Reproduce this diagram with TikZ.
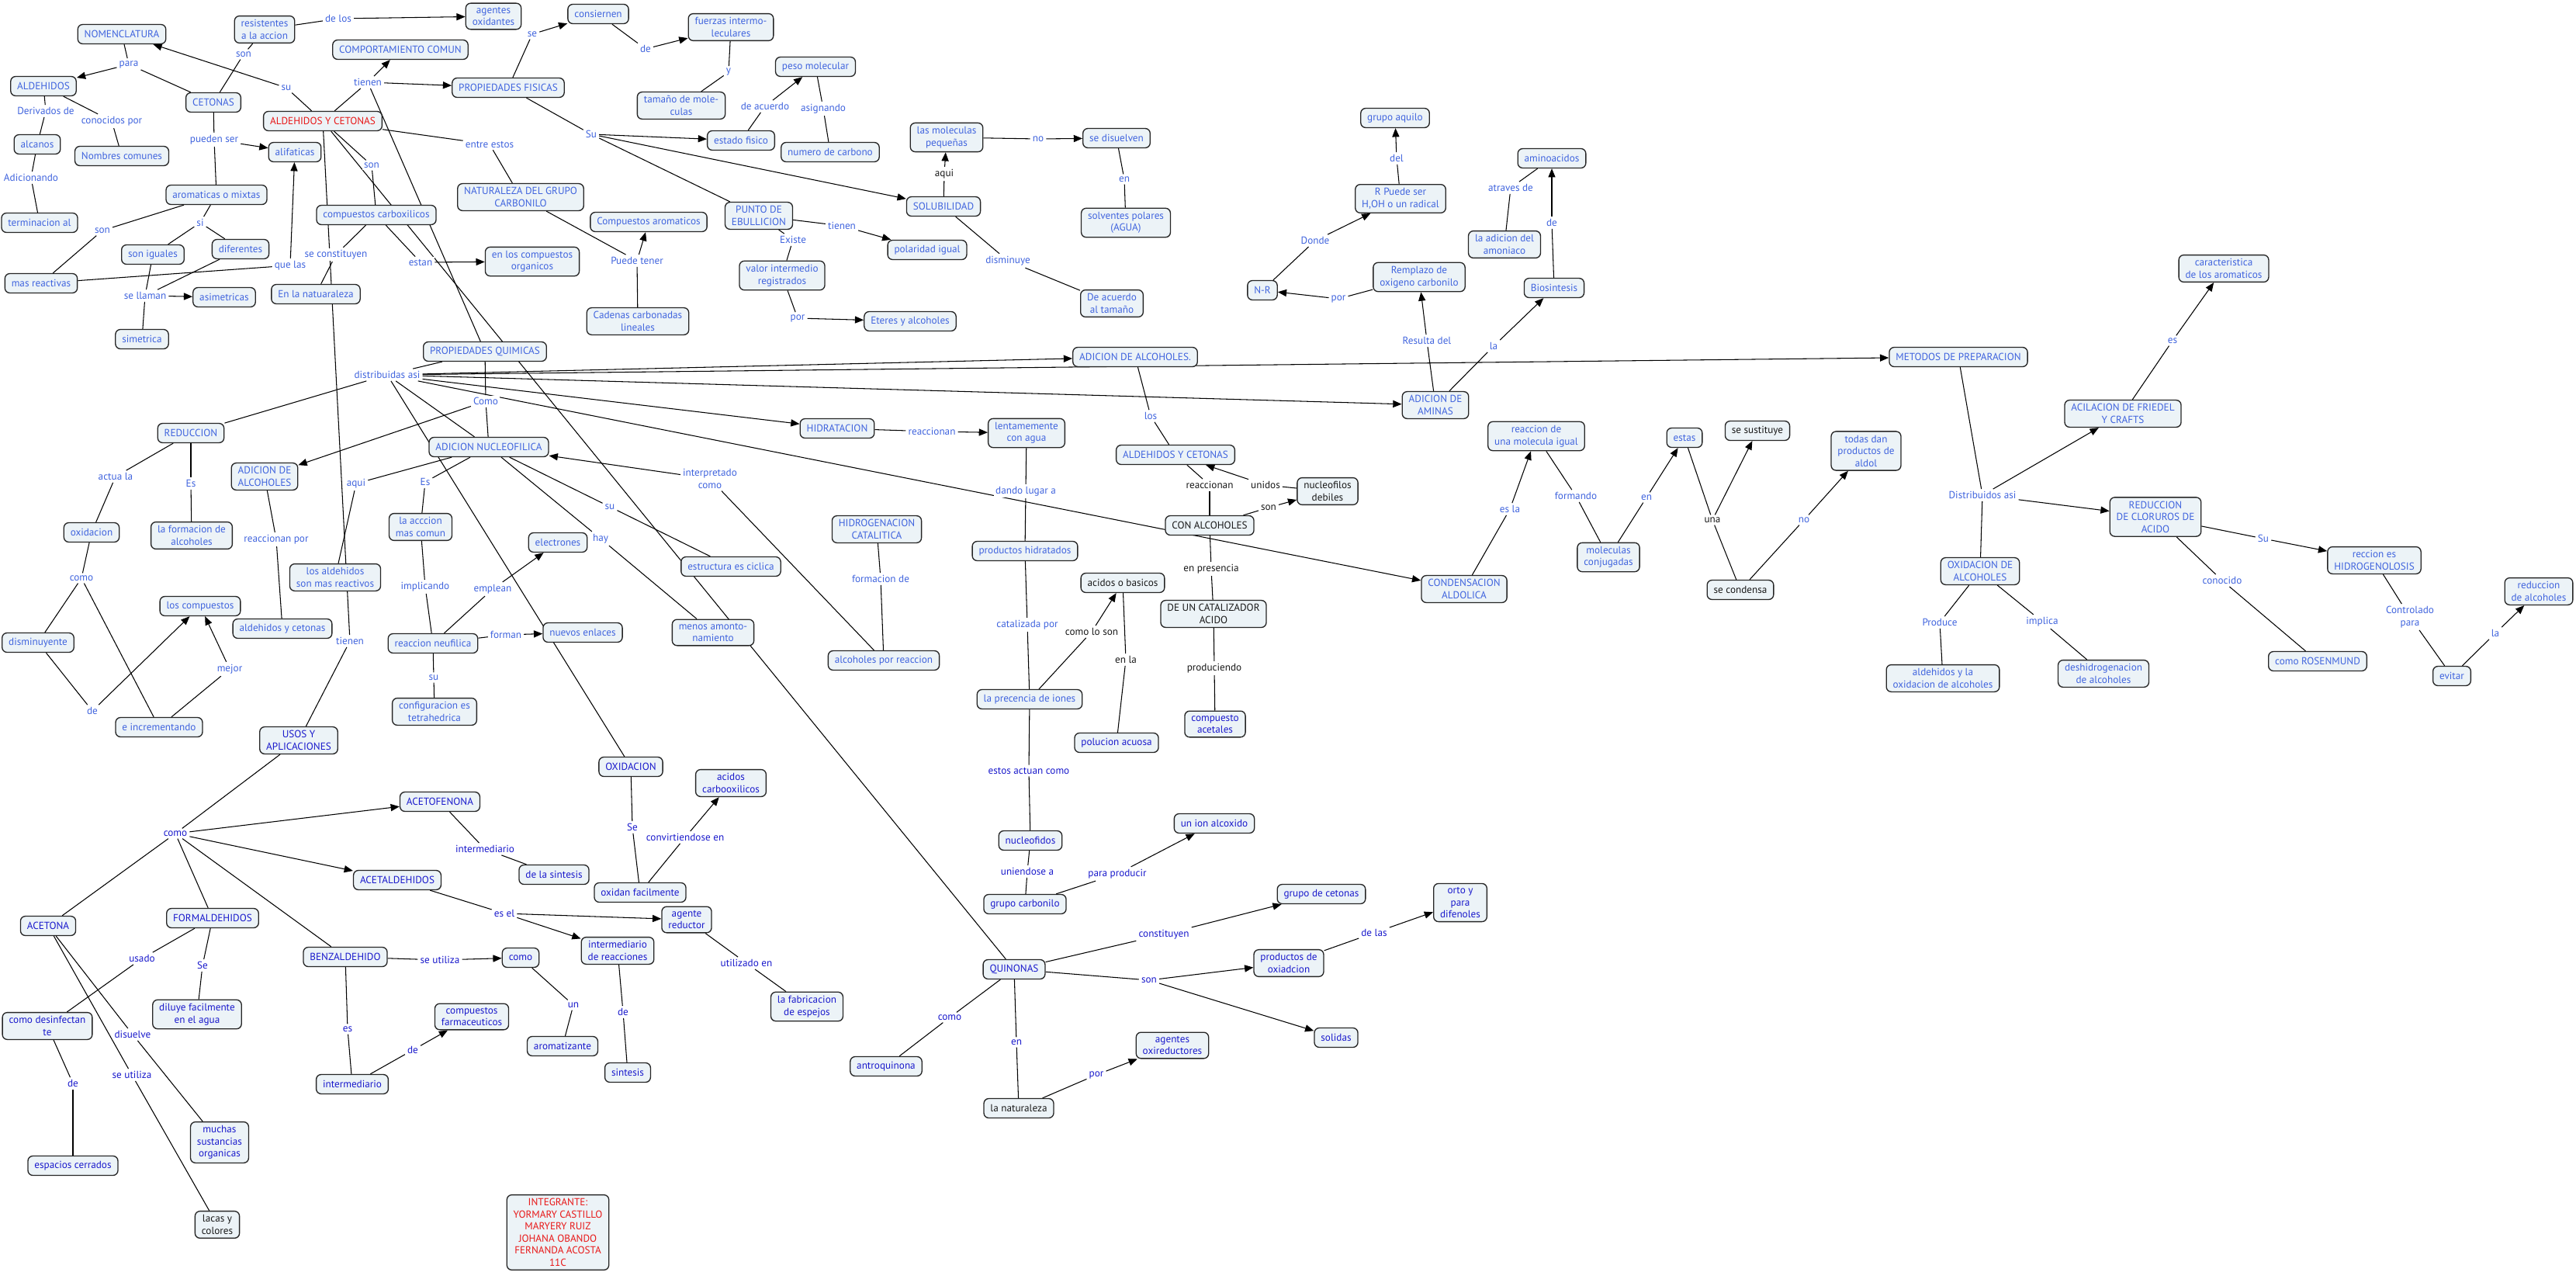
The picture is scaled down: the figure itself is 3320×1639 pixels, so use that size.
\documentclass[tikz,border=0pt]{standalone}
\usepackage{fontspec}
\setmainfont{PT Sans}
\usepackage{xcolor}
\usetikzlibrary{arrows.meta, backgrounds}

\definecolor{cmblue}{RGB}{64,100,222}
\definecolor{cmdark}{RGB}{26,26,204}
\definecolor{cmfill}{RGB}{236,243,247}
\definecolor{cmred}{RGB}{232,24,24}
\definecolor{cmblack}{RGB}{25,25,25}
\newcommand{\mapfont}{\fontsize{3.75}{4.4}\selectfont}

\begin{document}
\begin{tikzpicture}[
    x=0.01cm, y=-0.01cm,
    concept/.style={draw=black!85, line width=0.38pt, rounded corners=1.8pt, fill=cmfill, text=cmblue, align=center, font=\mapfont, inner xsep=2.4pt, inner ysep=1.4pt, minimum height=7.1pt},
    phrase/.style={fill=white, text=cmblue, align=center, font=\mapfont, inner sep=0.7pt},
    dk/.style={text=cmdark},
    bk/.style={text=cmblack},
    rd/.style={text=cmred},
    conn/.style={line width=0.3pt},
    arrow/.style={line width=0.3pt, -{Triangle[length=3.2pt, width=2.6pt]}},
]
\useasboundingbox (0,0) rectangle (3320,1639);

% concepts
\node[concept] (nomen) at (157,44) {NOMENCLATURA};
\node[concept] (resist) at (341,38) {resistentes\\a la accion};
\node[concept] (agox) at (636,21) {agentes\\oxidantes};
\node[concept] (consi) at (771,18) {consiernen};
\node[concept] (fuerzas) at (942,35) {fuerzas intermo-\\leculares};
\node[concept] (compcom) at (516,64) {COMPORTAMIENTO COMUN};
\node[concept] (aldeh) at (56,111) {ALDEHIDOS};
\node[concept] (cetonas) at (275,132) {CETONAS};
\node[concept] (propfis) at (655,113) {PROPIEDADES FISICAS};
\node[concept] (tamano) at (878,136) {tamaño de mole-\\culas};
\node[concept] (pesomol) at (1051,86) {peso molecular};
\node[concept, rd] (ayc) at (416,156) {ALDEHIDOS Y CETONAS};
\node[concept] (alcanos) at (48,186) {alcanos};
\node[concept] (nomcom) at (157,201) {Nombres comunes};
\node[concept] (alif) at (380,196) {alifaticas};
\node[concept] (estfis) at (955,181) {estado fisico};
\node[concept] (numcarb) at (1070,196) {numero de carbono};
\node[concept] (molpeq) at (1220,177) {las moleculas\\pequeñas};
\node[concept] (sedis) at (1439,178) {se disuelven};
\node[concept] (grupoaq) at (1798,152) {grupo aquilo};
\node[concept] (aminoac) at (2000,204) {aminoacidos};
\node[concept] (aromix) at (279,251) {aromaticas o mixtas};
\node[concept] (natur) at (671,254) {NATURALEZA DEL GRUPO\\CARBONILO};
\node[concept] (rpuede) at (1805,256) {R Puede ser\\H,OH o un radical};
\node[concept] (termal) at (51,287) {terminacion al};
\node[concept] (compcarb) at (485,277) {compuestos  carboxilicos};
\node[concept] (comparom) at (836,286) {Compuestos aromaticos};
\node[concept] (punteb) at (978,278) {PUNTO DE\\EBULLICION};
\node[concept] (solub) at (1216,266) {SOLUBILIDAD};
\node[concept] (solvpol) at (1451,287) {solventes polares\\(AGUA)};
\node[concept] (adicamon) at (1939,315) {la adicion del\\amoniaco};
\node[concept] (soniguales) at (197,328) {son iguales};
\node[concept] (difer) at (310,321) {diferentes};
\node[concept] (enloscomp) at (686,337) {en los compuestos\\organicos};
\node[concept] (polig) at (1195,322) {polaridad igual};
\node[concept] (remplazo) at (1829,357) {Remplazo de\\oxigeno carbonilo};
\node[concept] (valint) at (1008,355) {valor intermedio\\registrados};
\node[concept] (masreact) at (53,365) {mas reactivas};
\node[concept] (asim) at (289,383) {asimetricas};
\node[concept] (enlanat) at (407,379) {En la natuaraleza};
\node[concept] (cadenas) at (822,414) {Cadenas carbonadas\\lineales};
\node[concept] (eteres) at (1173,414) {Eteres y alcoholes};
\node[concept] (deacuerdo) at (1433,391) {De acuerdo\\al tamaño};
\node[concept] (nr) at (1627,374) {N-R};
\node[concept] (biosint) at (2003,371) {Biosintesis};
\node[concept] (caract) at (2866,346) {caracteristica\\de los aromaticos};
\node[concept] (simet) at (183,437) {simetrica};
\node[concept] (propquim) at (625,453) {PROPIEDADES QUIMICAS};
\node[concept] (adicalcr) at (1463,460) {ADICION DE ALCOHOLES.};
\node[concept] (metodos) at (2524,460) {METODOS DE PREPARACION};
\node[concept] (adicam) at (1850,522) {ADICION DE\\AMINAS};
\node[concept] (acilac) at (2736,533) {ACILACION DE FRIEDEL\\Y CRAFTS};
\node[concept] (reduc) at (246,558) {REDUCCION};
\node[concept] (hidrat) at (1079,552) {HIDRATACION};
\node[concept] (lentam) at (1323,558) {lentamemente\\con agua};
\node[concept] (reacmol) at (1980,562) {reaccion de\\una molecula igual};
\node[concept] (estas) at (2171,564) {estas};
\node[concept, bk] (sesust) at (2265,555) {se sustituye};
\node[concept] (todas) at (2405,581) {todas dan\\productos de\\aldol};
\node[concept] (adnuc) at (630,576) {ADICION NUCLEOFILICA};
\node[concept] (ayc2) at (1515,586) {ALDEHIDOS Y CETONAS};
\node[concept, bk] (nucdeb) at (1711,633) {nucleofilos\\debiles};
\node[concept] (adicalcl) at (341,614) {ADICION DE\\ALCOHOLES};
\node[concept] (redclor) at (2778,666) {REDUCCION\\DE CLORUROS DE\\ACIDO};
\node[concept] (hidrog) at (1130,682) {HIDROGENACION\\CATALITICA};
\node[concept, bk] (conalc) at (1559,677) {CON ALCOHOLES};
\node[concept] (oxidacion) at (118,686) {oxidacion};
\node[concept] (formalc) at (247,690) {la formacion de\\alcoholes};
\node[concept] (accion) at (542,679) {la acccion\\mas comun};
\node[concept] (electr) at (719,699) {electrones};
\node[concept] (prodhid) at (1321,710) {productos hidratados};
\node[concept] (reccion) at (3060,722) {reccion es\\HIDROGENOLOSIS};
\node[concept] (estruc) at (942,730) {estructura es ciclica};
\node[concept] (molconj) at (2073,718) {moleculas\\conjugadas};
\node[concept] (oxalc) at (2552,736) {OXIDACION DE\\ALCOHOLES};
\node[concept] (losald) at (432,744) {los aldehidos\\son mas reactivos};
\node[concept, bk] (acbas) at (1447,751) {acidos o basicos};
\node[concept] (condens) at (1887,759) {CONDENSACION\\ALDOLICA};
\node[concept, bk] (second) at (2243,760) {se condensa};
\node[concept] (redalc) at (3272,762) {reduccion\\de alcoholes};
\node[concept] (loscomp) at (258,781) {los compuestos};
\node[concept, bk] (catal) at (1564,791) {DE UN CATALIZADOR\\ACIDO};
\node[concept] (aycmin) at (364,810) {aldehidos y cetonas};
\node[concept] (menos) at (919,815) {menos amonto-\\namiento};
\node[concept] (nuevos) at (751,815) {nuevos enlaces};
\node[concept] (reacneu) at (558,829) {reaccion neufilica};
\node[concept] (dismin) at (49,828) {disminuyente};
\node[concept] (alcreac) at (1139,851) {alcoholes por reaccion};
\node[concept] (rosen) at (2987,852) {como ROSENMUND};
\node[concept] (aldyox) at (2504,874) {aldehidos y la\\oxidacion de alcoholes};
\node[concept] (deshid) at (2711,868) {deshidrogenacion\\de alcoholes};
\node[concept] (evitar) at (3160,871) {evitar};
\node[concept] (preciones) at (1327,901) {la precencia de iones};
\node[concept] (config) at (560,917) {configuracion es\\tetrahedrica};
\node[concept, dk] (acetales) at (1566,933) {compuesto\\acetales};
\node[concept] (increm) at (205,937) {e incrementando};
\node[concept, dk] (usos) at (385,954) {USOS Y\\APLICACIONES};
\node[concept, dk] (polucion) at (1439,957) {polucion acuosa};
\node[concept, dk] (oxid) at (813,988) {OXIDACION};
\node[concept, dk] (acidcarb) at (942,1009) {acidos\\carbooxilicos};
\node[concept, dk] (acetof) at (567,1033) {ACETOFENONA};
\node[concept, dk] (ionalc) at (1565,1061) {un ion alcoxido};
\node[concept, dk] (nucleof) at (1328,1083) {nucleofidos};
\node[concept, dk] (delasint) at (714,1127) {de la sintesis};
\node[concept, dk] (acetald) at (512,1134) {ACETALDEHIDOS};
\node[concept, dk] (oxidfac) at (825,1150) {oxidan facilmente};
\node[concept, dk] (grupocet) at (1703,1152) {grupo de cetonas};
\node[concept, dk] (orto) at (1882,1163) {orto y\\para\\difenoles};
\node[concept, dk] (grupocarb) at (1321,1165) {grupo carbonilo};
\node[concept, dk] (agred) at (885,1185) {agente\\reductor};
\node[concept, dk] (formald) at (274,1183) {FORMALDEHIDOS};
\node[concept, dk] (acetona) at (62,1193) {ACETONA};
\node[concept, dk] (intreac) at (796,1225) {intermediario\\de reacciones};
\node[concept, dk] (benzal) at (445,1233) {BENZALDEHIDO};
\node[concept, dk] (comonode) at (671,1234) {como};
\node[concept, dk] (quinonas) at (1307,1249) {QUINONAS};
\node[concept, dk] (prodox) at (1661,1241) {productos de\\oxiadcion};
\node[concept, dk] (desinf) at (61,1322) {como desinfectan\\te};
\node[concept, dk] (diluye) at (254,1307) {diluye facilmente\\en el agua};
\node[concept, dk] (compfarm) at (608,1310) {compuestos\\farmaceuticos};
\node[concept, dk] (fabric) at (1040,1297) {la fabricacion\\de espejos};
\node[concept, dk] (solidas) at (1722,1337) {solidas};
\node[concept, dk] (aromat) at (725,1348) {aromatizante};
\node[concept, dk] (agoxir) at (1511,1347) {agentes\\oxireductores};
\node[concept, dk] (sintesis) at (809,1382) {sintesis};
\node[concept, dk] (intermed) at (454,1397) {intermediario};
\node[concept, dk] (antroq) at (1142,1374) {antroquinona};
\node[concept, bk] (natlz) at (1313,1428) {la naturaleza};
\node[concept, dk] (muchas) at (283,1472) {muchas\\sustancias\\organicas};
\node[concept, dk] (espacios) at (94,1502) {espacios cerrados};
\node[concept, bk] (lacas) at (280,1578) {lacas y\\colores};
\node[concept, rd] (integ) at (719,1588) {INTEGRANTE:\\YORMARY CASTILLO\\MARYERY RUIZ\\JOHANA OBANDO\\FERNANDA ACOSTA\\11C};

% linking phrases
\node[phrase] (pdelos) at (436,24) {de los};
\node[phrase] (pson1) at (314,70) {son};
\node[phrase] (ppara) at (166,83) {para};
\node[phrase] (psu1) at (369,113) {su};
\node[phrase] (ptienen1) at (474,106) {tienen};
\node[phrase] (pse1) at (686,44) {se};
\node[phrase] (pde1) at (832,63) {de};
\node[phrase] (pderiv) at (59,143) {Derivados de};
\node[phrase] (pconoc) at (144,156) {conocidos por};
\node[phrase] (ppueden) at (276,180) {pueden ser};
\node[phrase] (pentre) at (631,186) {entre estos};
\node[phrase] (pSu1) at (762,173) {Su};
\node[phrase] (pson2) at (479,213) {son};
\node[phrase] (padic) at (40,229) {Adicionando};
\node[phrase] (pson3) at (132,297) {son};
\node[phrase] (psi) at (258,287) {si};
\node[phrase] (pconst) at (433,328) {se constituyen};
\node[phrase] (pquelas) at (374,342) {que las};
\node[phrase] (pestan) at (542,338) {estan};
\node[phrase] (ppuede) at (821,336) {Puede tener};
\node[phrase] (pllaman) at (187,381) {se llaman};
\node[phrase] (py) at (939,93) {y};
\node[phrase] (pdeacu) at (986,137) {de acuerdo};
\node[phrase] (pasign) at (1061,140) {asignando};
\node[phrase] (pno1) at (1338,179) {no};
\node[phrase, bk] (paqui1) at (1217,224) {aqui};
\node[phrase] (pen1) at (1449,231) {en};
\node[phrase] (ptienen2) at (1085,291) {tienen};
\node[phrase] (pexiste) at (1022,309) {Existe};
\node[phrase] (pdismin) at (1299,336) {disminuye};
\node[phrase] (ppor1) at (1028,410) {por};
\node[phrase] (pdonde) at (1695,310) {Donde};
\node[phrase] (ppor2) at (1725,385) {por};
\node[phrase] (pdel) at (1800,204) {del};
\node[phrase] (patraves) at (1947,242) {atraves de};
\node[phrase] (pde2) at (2000,287) {de};
\node[phrase] (presulta) at (1839,439) {Resulta del};
\node[phrase] (pla1) at (1925,446) {la};
\node[phrase] (pes1) at (2800,439) {es};
\node[phrase] (pdistrib) at (499,483) {distribuidas asi};
\node[phrase] (pcomo1) at (626,517) {Como};
\node[phrase] (pactua) at (149,614) {actua la};
\node[phrase] (pEs1) at (246,623) {Es};
\node[phrase] (paqui2) at (459,623) {aqui};
\node[phrase] (pEs2) at (548,621) {Es};
\node[phrase] (psu2) at (786,653) {su};
\node[phrase] (preacpor) at (356,695) {reaccionan por};
\node[phrase] (phay) at (774,694) {hay};
\node[phrase] (pcomo2) at (105,745) {como};
\node[phrase] (pimplic) at (548,756) {implicando};
\node[phrase] (pemplean) at (635,759) {emplean};
\node[phrase] (ptienen3) at (451,826) {tienen};
\node[phrase] (pforman) at (652,818) {forman};
\node[phrase] (pmejor) at (296,862) {mejor};
\node[phrase] (psu3) at (559,873) {su};
\node[phrase] (pde3) at (119,916) {de};
\node[phrase] (preac1) at (1201,556) {reaccionan};
\node[phrase] (plos) at (1483,536) {los};
\node[phrase] (pinterp) at (915,617) {interpretado\\como};
\node[phrase, bk] (preac2) at (1559,625) {reaccionan};
\node[phrase, bk] (punidos) at (1631,625) {unidos};
\node[phrase] (pdando) at (1322,633) {dando lugar a};
\node[phrase, bk] (pson4) at (1635,654) {son};
\node[phrase, bk] (ppresen) at (1561,733) {en presencia};
\node[phrase] (pformac) at (1135,746) {formacion de};
\node[phrase] (pcataliz) at (1324,805) {catalizada por};
\node[phrase, bk] (pcomolo) at (1407,814) {como lo son};
\node[phrase, bk] (penla) at (1451,850) {en la};
\node[phrase, bk] (pproduc) at (1565,861) {produciendo};
\node[phrase, dk] (pestos) at (1326,993) {estos actuan como};
\node[phrase, dk] (punien) at (1324,1123) {uniendose a};
\node[phrase, dk] (pparaprod) at (1440,1126) {para producir};
\node[phrase, dk] (pconstit) at (1500,1204) {constituyen};
\node[phrase, dk] (pson5) at (1481,1263) {son};
\node[phrase, dk] (pcomo3) at (1224,1311) {como};
\node[phrase, dk] (pen2) at (1310,1343) {en};
\node[phrase, dk] (ppor3) at (1413,1385) {por};
\node[phrase, dk] (pdelas) at (1771,1202) {de las};
\node[phrase, dk] (putiliz) at (962,1241) {utilizado en};
\node[phrase, dk] (pcomo4) at (226,1074) {como};
\node[phrase, dk] (pSe1) at (815,1066) {Se};
\node[phrase, dk] (pconvirt) at (883,1079) {convirtiendose en};
\node[phrase, dk] (pintermed) at (625,1094) {intermediario};
\node[phrase, dk] (pesel) at (650,1177) {es el};
\node[phrase, dk] (psutil1) at (567,1237) {se utiliza};
\node[phrase, dk] (pusado) at (183,1235) {usado};
\node[phrase, dk] (pSe2) at (261,1244) {Se};
\node[phrase, dk] (pun) at (739,1295) {un};
\node[phrase, dk] (pde4) at (803,1304) {de};
\node[phrase, dk] (pes2) at (448,1326) {es};
\node[phrase, dk] (pdisuelve) at (171,1333) {disuelve};
\node[phrase, dk] (pde5) at (532,1353) {de};
\node[phrase, dk] (psutil2) at (170,1385) {se utiliza};
\node[phrase, dk] (pde6) at (94,1396) {de};
\node[phrase] (pformando) at (2031,639) {formando};
\node[phrase] (pen3) at (2122,641) {en};
\node[phrase] (pesla) at (1946,656) {es la};
\node[phrase, bk] (puna) at (2207,670) {una};
\node[phrase] (pno2) at (2325,670) {no};
\node[phrase] (pDistrib) at (2555,638) {Distribuidos asi};
\node[phrase] (pProduce) at (2500,802) {Produce};
\node[phrase] (pSu2) at (2917,694) {Su};
\node[phrase] (pconocido) at (2864,748) {conocido};
\node[phrase] (pcontrol) at (3106,795) {Controlado\\para};
\node[phrase] (pimplica) at (2632,801) {implica};
\node[phrase] (pla2) at (3216,816) {la};

\begin{scope}[on background layer]
\fill[white] (0,0) rectangle (3320,1639);
\draw[conn] (resist) -- (pdelos); \draw[arrow] (pdelos) -- (agox);
\draw[conn] (cetonas) -- (pson1); \draw[conn] (pson1) -- (resist);
\draw[conn] (nomen) -- (ppara); \draw[conn] (cetonas) -- (ppara); \draw[arrow] (ppara) -- (aldeh);
\draw[conn] (ayc) -- (psu1); \draw[arrow] (psu1) -- (nomen);
\draw[conn] (ayc) -- (ptienen1); \draw[arrow] (ptienen1) -- (compcom); \draw[arrow] (ptienen1) -- (propfis); \draw[conn] (ptienen1) -- (propquim);
\draw[conn] (propfis) -- (pse1); \draw[arrow] (pse1) -- (consi);
\draw[conn] (consi) -- (pde1); \draw[arrow] (pde1) -- (fuerzas);
\draw[conn] (aldeh) -- (pderiv); \draw[conn] (pderiv) -- (alcanos);
\draw[conn] (aldeh) -- (pconoc); \draw[conn] (pconoc) -- (nomcom);
\draw[conn] (alcanos) -- (padic); \draw[conn] (padic) -- (termal);
\draw[conn] (cetonas) -- (ppueden); \draw[arrow] (ppueden) -- (alif); \draw[conn] (ppueden) -- (aromix);
\draw[conn] (ayc) -- (pentre); \draw[conn] (pentre) -- (natur);
\draw[conn] (propfis) -- (pSu1); \draw[arrow] (pSu1) -- (estfis); \draw[arrow] (pSu1) -- (solub); \draw[conn] (pSu1) -- (punteb);
\draw[conn] (ayc) -- (pson2); \draw[conn] (pson2) -- (compcarb);
\draw[conn] (aromix) -- (pson3); \draw[conn] (pson3) -- (masreact);
\draw[conn] (aromix) -- (psi); \draw[conn] (psi) -- (soniguales); \draw[conn] (psi) -- (difer);
\draw[conn] (compcarb) -- (pconst); \draw[conn] (pconst) -- (enlanat);
\draw[conn] (masreact) -- (pquelas); \draw[arrow] (pquelas) -- (alif);
\draw[conn] (compcarb) -- (pestan); \draw[arrow] (pestan) -- (enloscomp);
\draw[conn] (natur) -- (ppuede); \draw[arrow] (ppuede) -- (comparom); \draw[conn] (ppuede) -- (cadenas);
\draw[conn] (soniguales) -- (pllaman); \draw[conn] (difer) -- (pllaman); \draw[arrow] (pllaman) -- (asim); \draw[conn] (pllaman) -- (simet);
\draw[conn] (fuerzas) -- (py); \draw[conn] (py) -- (tamano);
\draw[conn] (estfis) -- (pdeacu); \draw[arrow] (pdeacu) -- (pesomol);
\draw[conn] (pesomol) -- (pasign); \draw[conn] (pasign) -- (numcarb);
\draw[conn] (molpeq) -- (pno1); \draw[arrow] (pno1) -- (sedis);
\draw[conn] (solub) -- (paqui1); \draw[arrow] (paqui1) -- (molpeq);
\draw[conn] (sedis) -- (pen1); \draw[conn] (pen1) -- (solvpol);
\draw[conn] (punteb) -- (ptienen2); \draw[arrow] (ptienen2) -- (polig);
\draw[conn] (punteb) -- (pexiste); \draw[conn] (pexiste) -- (valint);
\draw[conn] (solub) -- (pdismin); \draw[conn] (pdismin) -- (deacuerdo);
\draw[conn] (valint) -- (ppor1); \draw[arrow] (ppor1) -- (eteres);
\draw[conn] (nr) -- (pdonde); \draw[arrow] (pdonde) -- (rpuede);
\draw[conn] (remplazo) -- (ppor2); \draw[arrow] (ppor2) -- (nr);
\draw[conn] (rpuede) -- (pdel); \draw[arrow] (pdel) -- (grupoaq);
\draw[conn] (adicamon) -- (patraves); \draw[conn] (patraves) -- (aminoac);
\draw[conn] (biosint) -- (pde2); \draw[arrow] (pde2) -- (aminoac);
\draw[conn] (adicam) -- (presulta); \draw[arrow] (presulta) -- (remplazo);
\draw[conn] (adicam) -- (pla1); \draw[arrow] (pla1) -- (biosint);
\draw[conn] (acilac) -- (pes1); \draw[arrow] (pes1) -- (caract);
\draw[conn] (propquim) -- (pdistrib);
\draw[arrow] (pdistrib) -- (adicalcr); \draw[arrow] (pdistrib) -- (metodos); \draw[arrow] (pdistrib) -- (adicam);
\draw[arrow] (pdistrib) -- (hidrat); \draw[arrow] (pdistrib) -- (condens);
\draw[conn] (pdistrib) -- (reduc); \draw[conn] (pdistrib) -- (adnuc); \draw[conn] (pdistrib) -- (oxid);
\draw[conn] (propquim) -- (pcomo1); \draw[conn] (pcomo1) -- (adnuc); \draw[arrow] (pcomo1) -- (adicalcl);
\draw[conn] (reduc) -- (pactua); \draw[conn] (pactua) -- (oxidacion);
\draw[conn] (reduc) -- (pEs1); \draw[conn] (pEs1) -- (formalc);
\draw[conn] (adnuc) -- (paqui2); \draw[conn] (paqui2) -- (losald);
\draw[conn] (adnuc) -- (pEs2); \draw[conn] (pEs2) -- (accion);
\draw[conn] (adnuc) -- (psu2); \draw[conn] (psu2) -- (estruc);
\draw[conn] (adicalcl) -- (preacpor); \draw[conn] (preacpor) -- (aycmin);
\draw[conn] (adnuc) -- (phay); \draw[conn] (phay) -- (menos);
\draw[conn] (oxidacion) -- (pcomo2); \draw[conn] (pcomo2) -- (dismin); \draw[conn] (pcomo2) -- (increm);
\draw[conn] (accion) -- (pimplic); \draw[conn] (pimplic) -- (reacneu);
\draw[conn] (reacneu) -- (pemplean); \draw[arrow] (pemplean) -- (electr);
\draw[conn] (ayc) -- (ptienen3); \draw[conn] (ptienen3) -- (usos);
\draw[conn] (reacneu) -- (pforman); \draw[arrow] (pforman) -- (nuevos);
\draw[conn] (increm) -- (pmejor); \draw[arrow] (pmejor) -- (loscomp);
\draw[conn] (reacneu) -- (psu3); \draw[conn] (psu3) -- (config);
\draw[conn] (dismin) -- (pde3); \draw[arrow] (pde3) -- (loscomp);
\draw[conn] (hidrat) -- (preac1); \draw[arrow] (preac1) -- (lentam);
\draw[conn] (adicalcr) -- (plos); \draw[conn] (plos) -- (ayc2);
\draw[conn] (alcreac) -- (pinterp); \draw[arrow] (pinterp) -- (adnuc);
\draw[conn] (ayc2) -- (preac2); \draw[conn] (preac2) -- (conalc);
\draw[conn] (nucdeb) -- (punidos); \draw[arrow] (punidos) -- (ayc2);
\draw[conn] (lentam) -- (pdando); \draw[conn] (pdando) -- (prodhid);
\draw[conn] (conalc) -- (pson4); \draw[arrow] (pson4) -- (nucdeb);
\draw[conn] (conalc) -- (ppresen); \draw[conn] (ppresen) -- (catal);
\draw[conn] (hidrog) -- (pformac); \draw[conn] (pformac) -- (alcreac);
\draw[conn] (prodhid) -- (pcataliz); \draw[conn] (pcataliz) -- (preciones);
\draw[conn] (preciones) -- (pcomolo); \draw[arrow] (pcomolo) -- (acbas);
\draw[conn] (acbas) -- (penla); \draw[conn] (penla) -- (polucion);
\draw[conn] (catal) -- (pproduc); \draw[conn] (pproduc) -- (acetales);
\draw[conn] (preciones) -- (pestos); \draw[conn] (pestos) -- (nucleof);
\draw[conn] (nucleof) -- (punien); \draw[conn] (punien) -- (grupocarb);
\draw[conn] (grupocarb) -- (pparaprod); \draw[arrow] (pparaprod) -- (ionalc);
\draw[conn] (ayc) -- (quinonas);
\draw[conn] (quinonas) -- (pconstit); \draw[arrow] (pconstit) -- (grupocet);
\draw[conn] (quinonas) -- (pson5); \draw[arrow] (pson5) -- (prodox); \draw[arrow] (pson5) -- (solidas);
\draw[conn] (quinonas) -- (pcomo3); \draw[conn] (pcomo3) -- (antroq);
\draw[conn] (quinonas) -- (pen2); \draw[conn] (pen2) -- (natlz);
\draw[conn] (natlz) -- (ppor3); \draw[arrow] (ppor3) -- (agoxir);
\draw[conn] (prodox) -- (pdelas); \draw[arrow] (pdelas) -- (orto);
\draw[conn] (agred) -- (putiliz); \draw[conn] (putiliz) -- (fabric);
\draw[conn] (usos) -- (pcomo4); \draw[arrow] (pcomo4) -- (acetof); \draw[arrow] (pcomo4) -- (acetald);
\draw[conn] (pcomo4) -- (acetona); \draw[conn] (pcomo4) -- (formald); \draw[conn] (pcomo4) -- (benzal);
\draw[conn] (oxid) -- (pSe1); \draw[conn] (pSe1) -- (oxidfac);
\draw[conn] (oxidfac) -- (pconvirt); \draw[arrow] (pconvirt) -- (acidcarb);
\draw[conn] (acetof) -- (pintermed); \draw[conn] (pintermed) -- (delasint);
\draw[conn] (acetald) -- (pesel); \draw[arrow] (pesel) -- (agred); \draw[arrow] (pesel) -- (intreac);
\draw[conn] (benzal) -- (psutil1); \draw[arrow] (psutil1) -- (comonode);
\draw[conn] (formald) -- (pusado); \draw[conn] (pusado) -- (desinf);
\draw[conn] (formald) -- (pSe2); \draw[conn] (pSe2) -- (diluye);
\draw[conn] (comonode) -- (pun); \draw[conn] (pun) -- (aromat);
\draw[conn] (intreac) -- (pde4); \draw[conn] (pde4) -- (sintesis);
\draw[conn] (benzal) -- (pes2); \draw[conn] (pes2) -- (intermed);
\draw[conn] (acetona) -- (pdisuelve); \draw[conn] (pdisuelve) -- (muchas);
\draw[conn] (intermed) -- (pde5); \draw[arrow] (pde5) -- (compfarm);
\draw[conn] (acetona) -- (psutil2); \draw[conn] (psutil2) -- (lacas);
\draw[conn] (desinf) -- (pde6); \draw[conn] (pde6) -- (espacios);
\draw[conn] (reacmol) -- (pformando); \draw[conn] (pformando) -- (molconj);
\draw[conn] (molconj) -- (pen3); \draw[arrow] (pen3) -- (estas);
\draw[conn] (condens) -- (pesla); \draw[arrow] (pesla) -- (reacmol);
\draw[conn] (estas) -- (puna); \draw[conn] (puna) -- (second); \draw[arrow] (puna) -- (sesust);
\draw[conn] (second) -- (pno2); \draw[arrow] (pno2) -- (todas);
\draw[conn] (metodos) -- (pDistrib); \draw[conn] (pDistrib) -- (oxalc); \draw[arrow] (pDistrib) -- (acilac); \draw[arrow] (pDistrib) -- (redclor);
\draw[conn] (oxalc) -- (pProduce); \draw[conn] (pProduce) -- (aldyox);
\draw[conn] (redclor) -- (pSu2); \draw[arrow] (pSu2) -- (reccion);
\draw[conn] (redclor) -- (pconocido); \draw[conn] (pconocido) -- (rosen);
\draw[conn] (reccion) -- (pcontrol); \draw[conn] (pcontrol) -- (evitar);
\draw[conn] (oxalc) -- (pimplica); \draw[conn] (pimplica) -- (deshid);
\draw[conn] (evitar) -- (pla2); \draw[arrow] (pla2) -- (redalc);
\end{scope}

\end{tikzpicture}
\end{document}
